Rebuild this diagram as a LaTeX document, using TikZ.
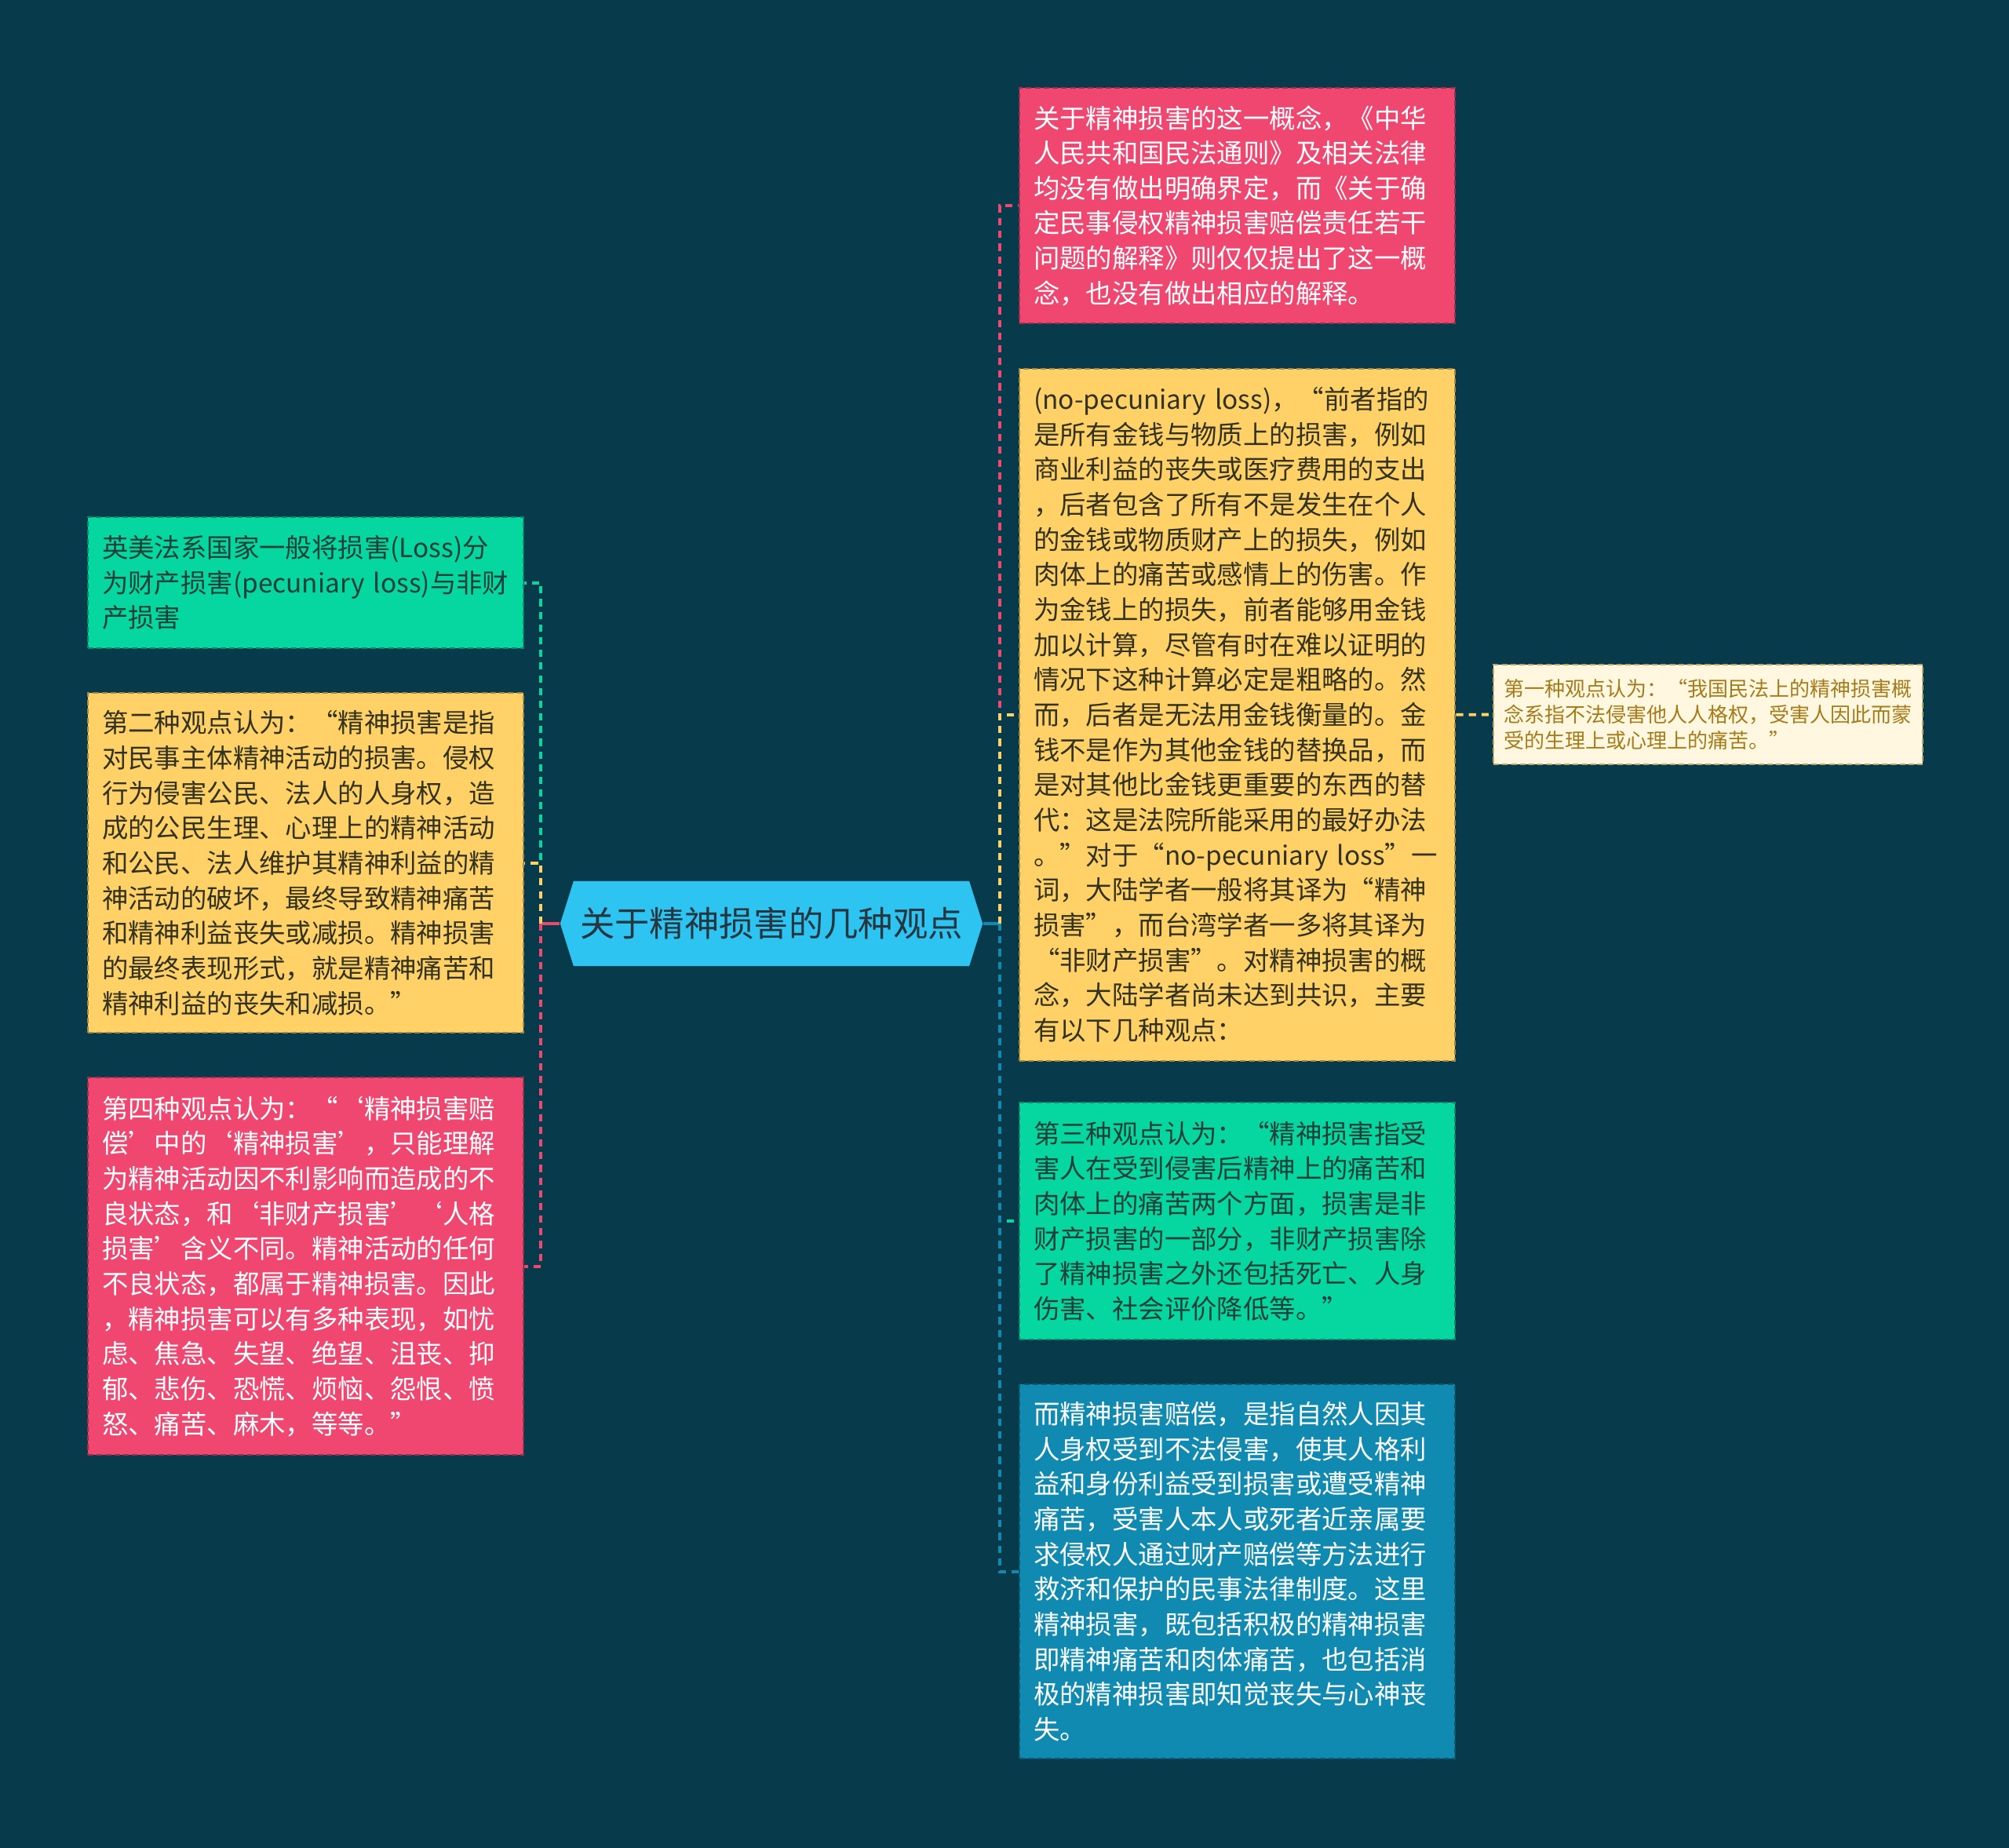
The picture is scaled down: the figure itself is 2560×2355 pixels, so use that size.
\documentclass[tikz,border=0pt]{standalone}
\usepackage{fontspec}
\setmainfont{Noto Sans CJK SC}
\usepackage{xcolor}
\usetikzlibrary{positioning,calc,shapes.symbols}

\definecolor{bgnavy}{HTML}{073B4C}
\definecolor{pinkred}{HTML}{EF476F}
\definecolor{sunyellow}{HTML}{FFD166}
\definecolor{mintgreen}{HTML}{06D6A0}
\definecolor{oceanblue}{HTML}{118AB2}
\definecolor{skyblue}{HTML}{2EC4F1}
\definecolor{creambg}{HTML}{FFF7E0}
\definecolor{goldtext}{HTML}{A57C1B}
\definecolor{darkink}{HTML}{33311F}
\definecolor{greenink}{HTML}{1E4038}
\definecolor{titleink}{HTML}{263640}

\newcommand{\bodysize}{\fontsize{9.5pt}{12.7pt}\selectfont\exhyphenpenalty=10000 }
\newcommand{\notesize}{\fontsize{7.4pt}{9.3pt}\selectfont}
\newcommand{\titlesize}{\fontsize{12.6pt}{15pt}\selectfont}

\tikzset{
  leafbox/.style={rectangle, anchor=north west, text width=5.19cm, inner xsep=0.18cm, inner ysep=0pt,
    align=left, font=\bodysize, fill=#1, draw=#1!65!black, line width=0.6pt, dash pattern=on 2pt off 1.2pt},
  link/.style={draw=#1, line width=1.1pt, dash pattern=on 2.6pt off 2pt},
  stub/.style={draw=#1, line width=1.1pt},
}

\begin{document}
\begin{tikzpicture}[x=0.01cm, y=-0.01cm]
    \useasboundingbox (0,0) rectangle (2560,2355);
    \fill [bgnavy] (0,0) rectangle (2560,2355);

    % centre topic
    \node [signal, signal to=west and east, signal pointer angle=145, fill=skyblue, text=titleink,
        font=\titlesize, minimum width=5.38cm, minimum height=1.08cm, inner xsep=2pt] (hub) at (983,1177)
        {关于精神损害的几种观点};
    \coordinate (trunkL) at ($(hub.west)+(-24,0)$);
    \coordinate (trunkR) at ($(hub.east)+(21,0)$);

    % right branch
    \node [leafbox=pinkred, text=white, minimum height=3.00cm] (concept) at (1298,111)
        {关于精神损害的这一概念，《中华\\人民共和国民法通则》及相关法律\\均没有做出明确界定，而《关于确\\定民事侵权精神损害赔偿责任若干\\问题的解释》则仅仅提出了这一概\\念，也没有做出相应的解释。};
    \node [leafbox=sunyellow, text=darkink, minimum height=8.81cm] (nopecun) at (1298,469)
        {(no-pecuniary~loss)，“前者指的\\是所有金钱与物质上的损害，例如\\商业利益的丧失或医疗费用的支出\\，后者包含了所有不是发生在个人\\的金钱或物质财产上的损失，例如\\肉体上的痛苦或感情上的伤害。作\\为金钱上的损失，前者能够用金钱\\加以计算，尽管有时在难以证明的\\情况下这种计算必定是粗略的。然\\而，后者是无法用金钱衡量的。金\\钱不是作为其他金钱的替换品，而\\是对其他比金钱更重要的东西的替\\代：这是法院所能采用的最好办法\\。”对于“no-pecuniary~loss”一\\词，大陆学者一般将其译为“精神\\损害”，而台湾学者一多将其译为\\“非财产损害”。对精神损害的概\\念，大陆学者尚未达到共识，主要\\有以下几种观点：};
    \node [leafbox=mintgreen, text=greenink, minimum height=3.02cm] (third) at (1298,1404)
        {第三种观点认为：“精神损害指受\\害人在受到侵害后精神上的痛苦和\\肉体上的痛苦两个方面，损害是非\\财产损害的一部分，非财产损害除\\了精神损害之外还包括死亡、人身\\伤害、社会评价降低等。”};
    \node [leafbox=oceanblue, text=white, minimum height=4.77cm] (redress) at (1298,1763)
        {而精神损害赔偿，是指自然人因其\\人身权受到不法侵害，使其人格利\\益和身份利益受到损害或遭受精神\\痛苦，受害人本人或死者近亲属要\\求侵权人通过财产赔偿等方法进行\\救济和保护的民事法律制度。这里\\精神损害，既包括积极的精神损害\\即精神痛苦和肉体痛苦，也包括消\\极的精神损害即知觉丧失与心神丧\\失。};
    \node [leafbox=creambg, draw=goldtext!70, text=goldtext, font=\notesize, text width=5.21cm,
        inner xsep=0.13cm, minimum height=1.27cm] (first) at (1902,846)
        {第一种观点认为：“我国民法上的精神损害概\\念系指不法侵害他人人格权，受害人因此而蒙\\受的生理上或心理上的痛苦。”};

    % left branch
    \node [leafbox=mintgreen, text=greenink, minimum height=1.67cm] (anglo) at (111,658)
        {英美法系国家一般将损害(Loss)分\\为财产损害(pecuniary~loss)与非财\\产损害};
    \node [leafbox=sunyellow, text=darkink, minimum height=4.33cm] (second) at (111,882)
        {第二种观点认为：“精神损害是指\\对民事主体精神活动的损害。侵权\\行为侵害公民、法人的人身权，造\\成的公民生理、心理上的精神活动\\和公民、法人维护其精神利益的精\\神活动的破坏，最终导致精神痛苦\\和精神利益丧失或减损。精神损害\\的最终表现形式，就是精神痛苦和\\精神利益的丧失和减损。”};
    \node [leafbox=pinkred, text=white, minimum height=4.81cm] (fourth) at (111,1372)
        {第四种观点认为：“‘精神损害赔\\偿’中的‘精神损害’，只能理解\\为精神活动因不利影响而造成的不\\良状态，和‘非财产损害’‘人格\\损害’含义不同。精神活动的任何\\不良状态，都属于精神损害。因此\\，精神损害可以有多种表现，如忧\\虑、焦急、失望、绝望、沮丧、抑\\郁、悲伤、恐慌、烦恼、怨恨、愤\\怒、痛苦、麻木，等等。”};

    % connectors
    \draw [stub=pinkred] (hub.west) -- (trunkL);
    \draw [link=mintgreen] (trunkL) |- (anglo.east);
    \draw [link=sunyellow] (trunkL) |- (second.east);
    \draw [link=pinkred] (trunkL) |- (fourth.east);

    \draw [stub=oceanblue] (hub.east) -- (trunkR);
    \draw [link=pinkred] (trunkR) |- (concept.west);
    \draw [link=sunyellow] (trunkR) |- (nopecun.west);
    \draw [link=mintgreen] (trunkR) |- (third.west);
    \draw [link=oceanblue] (trunkR) |- (redress.west);
    \draw [link=sunyellow] (nopecun.east) -- (first.west);
\end{tikzpicture}
\end{document}
